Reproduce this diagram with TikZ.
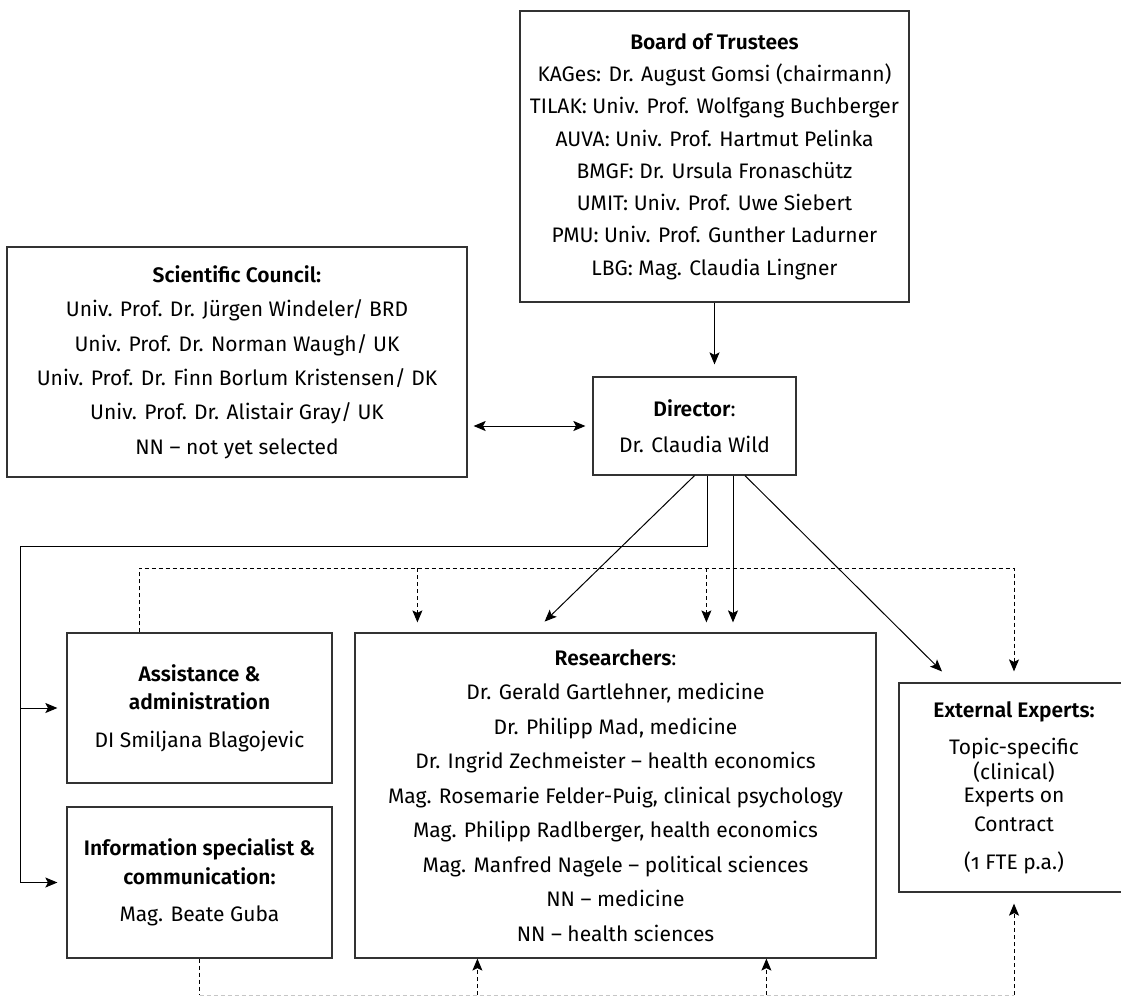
\documentclass[tikz,border=0pt]{standalone}
\usepackage{fontspec}
\setmainfont{Fira Sans}[BoldFont={Fira Sans SemiBold}]
\usetikzlibrary{arrows.meta, positioning, calc}
\definecolor{boxgray}{RGB}{50,50,50}

\begin{document}
\begin{tikzpicture}[
  x=1pt, y=-1pt,
  box/.style={rectangle, draw=boxgray, line width=1.2pt, align=center, inner sep=0pt},
  txt/.style={font=\fontsize{21}{#1}\selectfont},
  arr/.style={-{Stealth[length=12pt, width=10pt, inset=2.5pt]}, line width=1pt},
  dbl/.style={{Stealth[length=12pt, width=10pt, inset=2.5pt]}-{Stealth[length=12pt, width=10pt, inset=2.5pt]}, line width=1pt},
  dotline/.style={dash pattern=on 4pt off 3pt, line width=1pt},
]
  \useasboundingbox (0,0) rectangle (1121,996);

  % Boxes
  \node[box, txt=32.3pt, minimum width=389pt, minimum height=291pt] (board) at (714.5,156.5) {
    \textbf{Board of Trustees}\\
    KAGes: Dr. August Gomsi (chairmann)\\
    TILAK: Univ. Prof. Wolfgang Buchberger\\
    AUVA: Univ. Prof. Hartmut Pelinka\\
    BMGF: Dr. Ursula Fronaschütz\\
    UMIT: Univ. Prof. Uwe Siebert\\
    PMU: Univ. Prof. Gunther Ladurner\\
    LBG: Mag. Claudia Lingner
  };

  \node[box, txt=34.4pt, minimum width=460pt, minimum height=230pt] (council) at (237,362) {
    \textbf{Scientific Council:}\\
    Univ. Prof. Dr. Jürgen Windeler/ BRD\\
    Univ. Prof. Dr. Norman Waugh/ UK\\
    Univ. Prof. Dr. Finn Borlum Kristensen/ DK\\
    Univ. Prof. Dr. Alistair Gray/ UK\\
    NN – not yet selected
  };

  \node[box, txt=36pt, minimum width=203pt, minimum height=98pt] (director) at (694.5,426) {
    \textbf{Director}:\\
    Dr. Claudia Wild
  };

  \node[box, txt=28pt, minimum width=265pt, minimum height=150pt] (assist) at (199.5,708) {
    \textbf{Assistance \&}\\
    \textbf{administration}\\[10pt]
    DI Smiljana Blagojevic
  };

  \node[box, txt=29pt, minimum width=265pt, minimum height=151pt] (info) at (199.5,882.5) {
    \textbf{Information specialist \&}\\
    \textbf{communication:}\\[8pt]
    Mag. Beate Guba
  };

  \node[box, txt=34.5pt, minimum width=521pt, minimum height=325pt] (research) at (615.5,795.5) {
    \textbf{Researchers}:\\
    Dr. Gerald Gartlehner, medicine\\
    Dr. Philipp Mad, medicine\\
    Dr. Ingrid Zechmeister – health economics\\
    Mag. Rosemarie Felder-Puig, clinical psychology\\
    Mag. Philipp Radlberger, health economics\\
    Mag. Manfred Nagele – political sciences\\
    NN – medicine\\
    NN – health sciences
  };

  \node[box, txt=24pt, minimum width=230pt, minimum height=209pt] (external) at (1014,787.5) {
    \textbf{External Experts:}\\[13pt]
    Topic-specific\\[1pt]
    (clinical)\\[-1pt]
    Experts on\\[5pt]
    Contract\\[14pt]
    ({\addfontfeatures{Numbers=OldStyle}1} FTE p.a.)
  };

  % Helper points
  \coordinate (dbus) at (0,568);
  \coordinate (lbus) at (0,995);
  \coordinate (bus) at (20,546);
  \coordinate (ra) at ([xshift=63pt]research.north west);
  \coordinate (rb) at ([xshift=352pt]research.north west);
  \coordinate (rc) at ([xshift=123pt]research.south west);
  \coordinate (rd) at ([xshift=412pt]research.south west);

  % Solid connectors
  \draw[arr, shorten >=12pt] (board.south) -- (board.south |- director.north);
  \draw[dbl, shorten <=6pt, shorten >=7pt] (council.east |- director.west) -- (director.west);
  \draw[line width=1pt] ([xshift=12.5pt]director.south) |- (bus);
  \draw[arr, shorten >=9pt] (bus) |- (assist.west);
  \draw[arr, shorten >=9pt] (bus) |- (info.west);
  \draw[arr, shorten >=15.5pt] (director.south) -- ([xshift=-82pt]research.north);
  \draw[arr, shorten >=10pt] ([xshift=38.5pt]director.south) -- ([xshift=38.5pt]director.south |- research.north);
  \draw[arr, shorten >=15.5pt] ([xshift=50.5pt]director.south) -- ([xshift=-61pt]external.north);

  % Dashed connectors (top)
  \draw[dotline, arr, shorten >=11pt] ([xshift=-60.5pt]assist.north) |- (external.north |- dbus) -- (external.north);
  \draw[dotline, arr, shorten >=10pt] (ra |- dbus) -- (ra);
  \draw[dotline, arr, shorten >=10pt] (rb |- dbus) -- (rb);

  % Dashed connectors (bottom)
  \draw[dotline] (info.south) -- (info.south |- lbus);
  \draw[dotline, gray!45] (info.south |- lbus) -- (external.south |- lbus);
  \draw[dotline, arr] (rc |- lbus) -- (rc);
  \draw[dotline, arr] (rd |- lbus) -- (rd);
  \draw[dotline, arr, shorten >=11pt] (external.south |- lbus) -- (external.south);

\end{tikzpicture}
\end{document}
